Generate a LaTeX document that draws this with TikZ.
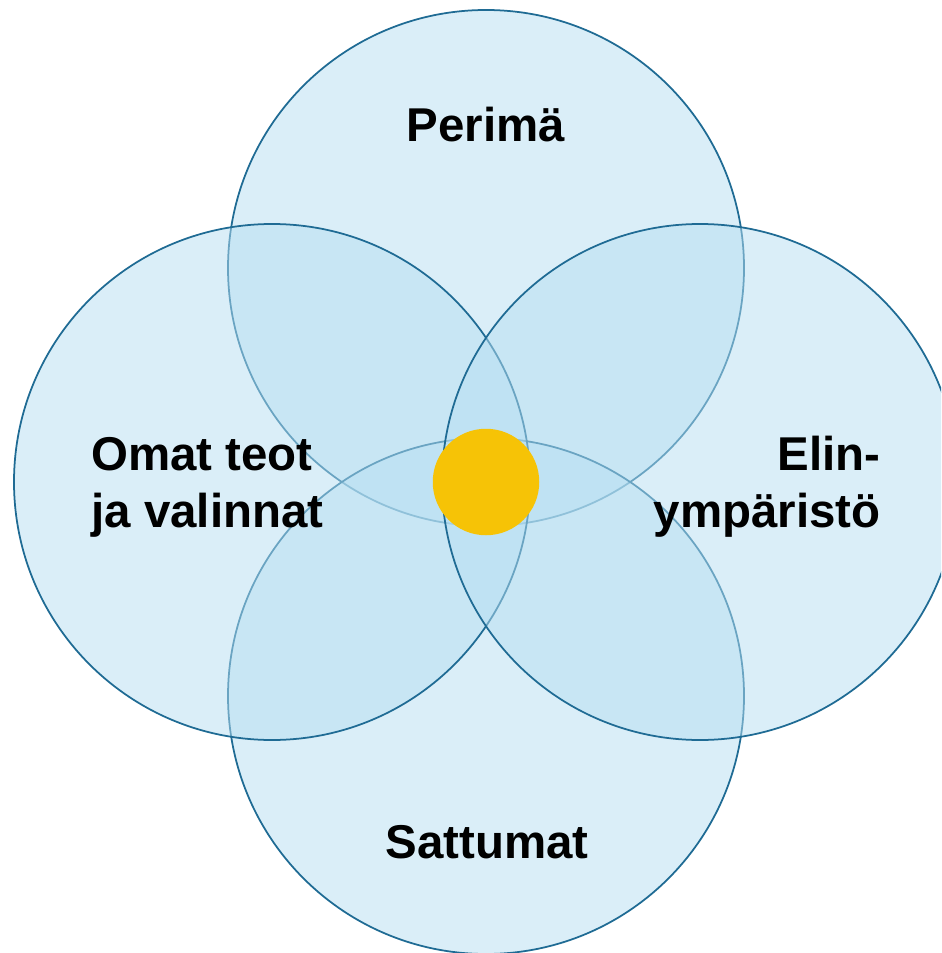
\documentclass[tikz,border=0pt]{standalone}
\usepackage{fontspec}
\setmainfont{Liberation Sans}
\definecolor{ringedge}{RGB}{31,107,148}
\definecolor{ringfill}{RGB}{182,222,241}
\definecolor{coresun}{RGB}{246,195,6}
\begin{document}
\begin{tikzpicture}[%
      ring/.style={%
        circle,
        inner sep    = 0pt,
        minimum size = 10.32cm,
        draw         = ringedge,
        line width   = 1pt,
        fill         = ringfill,
        fill opacity = 0.5,
      },
      label/.style={%
        inner sep = 0pt,
        font      = \fontsize{27}{32.3}\selectfont\bfseries,
      }
      ]

      \useasboundingbox (0,0) rectangle (18.82,-19.06);
      \clip (0,0) rectangle (18.82,-19.06);

      % the four circles
      \node[ring] (Perima)   at (9.72,-5.36)  {};
      \node[ring] (Sattumat) at (9.72,-13.92) {};
      \node[ring] (Omat)     at (5.44,-9.64)  {};
      \node[ring] (Elin)     at (14.00,-9.64) {};

      % centre
      \node[circle, inner sep=0pt, minimum size=2.13cm, fill=coresun] (Core) at (9.72,-9.64) {};

      % texts
      \node[label, anchor=base] (Perima-txt) at (9.72,-2.84) {Perimä};
      \node[label, anchor=base west, align=left] (Omat-txt) at (1.82,-10.54) {Omat teot \\ ja valinnat};
      \node[label, anchor=base east, align=right] (Elin-txt) at (17.62,-10.54) {Elin- \\ ympäristö};
      \node[label, anchor=base] (Sattumat-txt) at (9.74,-17.16) {Sattumat};

    \end{tikzpicture}
\end{document}
